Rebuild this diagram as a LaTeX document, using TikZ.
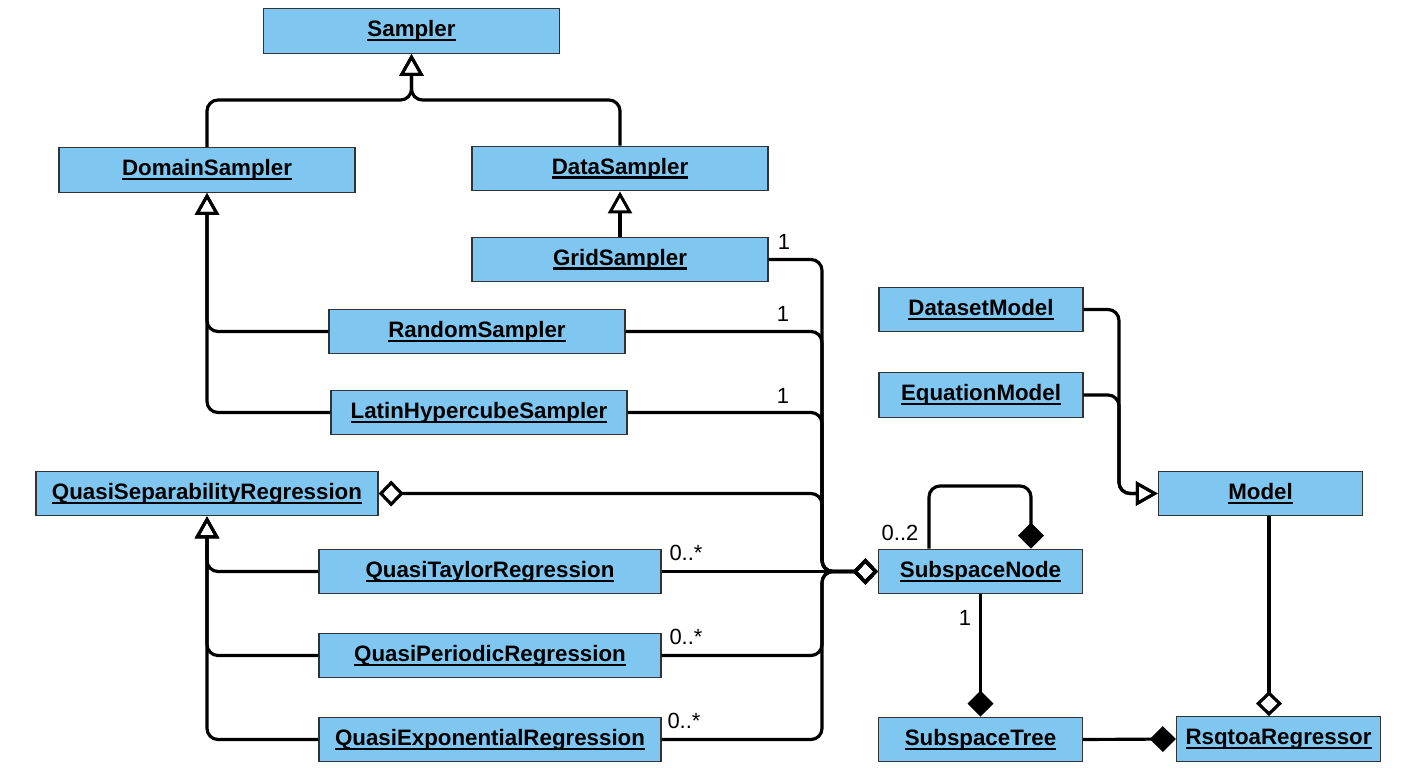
\documentclass[tikz,border=0pt]{standalone}
\usepackage{fontspec}
\setmainfont{Liberation Sans}
\usetikzlibrary{arrows.meta}
\definecolor{boxblue}{RGB}{127,198,240}
\newcommand\myul[1]{\setbox0\hbox{#1}\rlap{\rule[-2.7pt]{\wd0}{1.4pt}}\box0}
\tikzset{
  cls/.style={draw=black!80, line width=0.8pt, fill=boxblue, inner sep=0pt,
    minimum height=0.89cm, font=\fontsize{12.7}{15}\selectfont\bfseries},
  wide/.style={cls, minimum width=5.92cm},
  wider/.style={cls, minimum width=6.84cm},
  narrow/.style={cls, minimum width=4.08cm},
  conn/.style={line width=1.8pt, rounded corners=0.22cm},
  otri/.tip={Triangle[open, length=0.44cm, width=0.48cm, line width=1.7pt]},
  odia/.tip={Diamond[open, length=0.5cm, width=0.52cm, line width=1.8pt]},
  inh/.style={conn, -otri},
  agg/.style={conn, -odia},
  aggboth/.style={conn, odia-odia},
  comp/.style={conn, -{Diamond[length=0.52cm, width=0.52cm]}},
  lbl/.style={inner sep=0pt, font=\fontsize{12.5}{15}\selectfont}
}
\begin{document}
\begin{tikzpicture}[x=0.02cm, y=-0.02cm]
\useasboundingbox (0,0) rectangle (1421,774);

% classes
\node[wide] (sampler) at (411.5,31) {\myul{Sampler}};
\node[wide] (dom) at (207,170) {\myul{DomainSampler}};
\node[wide] (data) at (620,168.5) {\myul{DataSampler}};
\node[wide] (grid) at (620,259.5) {\myul{GridSampler}};
\node[wide] (rand) at (477,331.5) {\myul{RandomSampler}};
\node[wide] (latin) at (479,412.5) {\myul{LatinHypercubeSampler}};
\node[wider] (qsr) at (207,493.5) {\myul{QuasiSeparabilityRegression}};
\node[wider] (qtay) at (490,571.5) {\myul{QuasiTaylorRegression}};
\node[wider] (qper) at (490,655.5) {\myul{QuasiPeriodicRegression}};
\node[wider] (qexp) at (490,739.5) {\myul{QuasiExponentialRegression}};
\node[narrow] (dsm) at (981,309.5) {\myul{DatasetModel}};
\node[narrow] (eqm) at (981,395) {\myul{EquationModel}};
\node[narrow] (model) at (1260.5,493.5) {\myul{Model}};
\node[narrow] (sn) at (980.5,571.5) {\myul{SubspaceNode}};
\node[narrow] (st) at (980.5,739.5) {\myul{SubspaceTree}};
\node[narrow] (rsq) at (1278.5,739) {\myul{RsqtoaRegressor}};

% helper coordinates
\coordinate (ytop) at (0,100);
\coordinate (bx) at (822,0);
\coordinate (mb) at (1119,0);
\coordinate (mx) at (1269,0);
\coordinate (lt) at (0,486);
\coordinate (la) at ([xshift=-1.03cm]sn.north);
\coordinate (ra) at ([xshift=1.01cm]sn.north);

% inheritance
\draw[inh] (dom.north) -- (dom.north |- ytop) -- (sampler.south |- ytop) -- (sampler.south);
\draw[inh] (data.north) -- (data.north |- ytop) -- (sampler.south |- ytop) -- (sampler.south);
\draw[inh] (grid.north) -- (data.south);
\draw[inh] (rand.west) -| (dom.south);
\draw[inh] (latin.west) -| (dom.south);
\draw[inh] (qtay.west) -| (qsr.south);
\draw[inh] (qper.west) -| (qsr.south);
\draw[inh] (qexp.west) -| (qsr.south);
\draw[inh] (dsm.east) -- (dsm.east -| mb) -- (model.west -| mb) -- (model.west);
\draw[inh] (eqm.east) -- (eqm.east -| mb) -- (model.west -| mb) -- (model.west);

% aggregation into SubspaceNode
\draw[agg] (grid.east) -- (grid.east -| bx) -- (sn.west -| bx) -- (sn.west);
\draw[agg] (rand.east) -- (rand.east -| bx) -- (sn.west -| bx) -- (sn.west);
\draw[agg] (latin.east) -- (latin.east -| bx) -- (sn.west -| bx) -- (sn.west);
\draw[aggboth] (qsr.east) -- (qsr.east -| bx) -- (sn.west -| bx) -- (sn.west);
\draw[agg] (qtay.east) -- (sn.west);
\draw[agg] (qper.east) -- (qper.east -| bx) -- (sn.west -| bx) -- (sn.west);
\draw[agg] (qexp.east) -- (qexp.east -| bx) -- (sn.west -| bx) -- (sn.west);

% composition
\draw[comp] (la) -- (la |- lt) -- (ra |- lt) -- (ra);
\draw[comp] (sn.south) -- (st.north);
\draw[comp] (st.east) -- (rsq.west);
\draw[agg] (model.south -| mx) -- (rsq.north -| mx);

% multiplicities
\node[lbl] (m1) at (784,242) {1};
\node[lbl] (m2) at (783,314) {1};
\node[lbl] (m3) at (783,396) {1};
\node[lbl] (m4) at (686,553) {0..*};
\node[lbl] (m5) at (686,637) {0..*};
\node[lbl] (m6) at (684,721) {0..*};
\node[lbl] (m7) at (900,533) {0..2};
\node[lbl] (m8) at (965,618) {1};
\end{tikzpicture}
\end{document}
